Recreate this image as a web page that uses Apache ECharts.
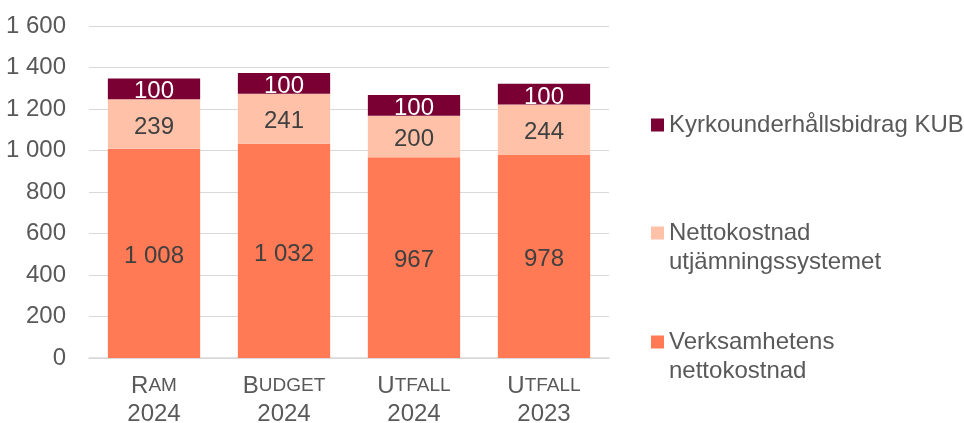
<!DOCTYPE html>
<html>
<head>
<meta charset="utf-8">
<script src="https://cdn.jsdelivr.net/npm/echarts@6/dist/echarts.min.js"></script>
<style>
    html, body { margin: 0; padding: 0; background: #fff; }
    #main { width: 964px; height: 423px; }
</style>
</head>
<body>
<div id="main"></div>
<script>
var categories = [['R', 'AM', '2024'], ['B', 'UDGET', '2024'], ['U', 'TFALL', '2024'], ['U', 'TFALL', '2023']];
var verksamhet = [1008, 1032, 967, 978];
var utjamning = [239, 241, 200, 244];
var kub = [100, 100, 100, 100];
var yTicks = { min: 0, max: 1600, step: 200 };

var names = ['Kyrkounderhållsbidrag KUB', 'Nettokostnad\nutjämningssystemet', 'Verksamhetens\nnettokostnad'];
var colors = ['#7A0034', '#FFC2A8', '#FF7A55'];
var font = 'Liberation Sans, Arial, sans-serif';

function fmt(v) {
    return String(v).replace(/\B(?=(\d{3})+(?!\d))/g, ' ');
}

// one legend per item so the gaps match; multi-line names get an empty
// first line so the marker lines up with the first text line
function legendAt(name, iconY) {
    var lines = name.split('\n').length;
    var blockH = lines > 1 ? (lines + 1) * 29 : 29;
    return {
        show: true,
        left: 646,
        top: iconY - blockH / 2 - 5,
        orient: 'vertical',
        data: [name],
        icon: 'rect',
        itemWidth: 13,
        itemHeight: 13,
        itemGap: 0,
        selectedMode: false,
        formatter: function (n) { return lines > 1 ? '\n' + n : n; },
        textStyle: {
            color: '#595959',
            fontSize: 24,
            fontFamily: font,
            lineHeight: 29
        }
    };
}

var labelBase = {
    show: true,
    position: 'inside',
    offset: [0, 3],
    fontSize: 24,
    fontFamily: font,
    color: '#404040',
    formatter: function (p) { return fmt(p.value); }
};

var option = {
    animation: false,
    grid: { left: 89, right: 355, top: 26, bottom: 65, containLabel: false, outerBoundsMode: 'none' },
    legend: [
        legendAt(names[0], 125),
        legendAt(names[1], 233),
        legendAt(names[2], 342)
    ],
    xAxis: {
        type: 'category',
        data: categories.map(function (c) { return c.join('|'); }),
        axisTick: { show: false },
        axisLine: { lineStyle: { color: '#D9D9D9', width: 1.5 } },
        axisLabel: {
            interval: 0,
            margin: 14,
            lineHeight: 28,
            formatter: function (v) {
                var p = v.split('|');
                return '{big|' + p[0] + '}{small|' + p[1] + '}\n{big|' + p[2] + '}';
            },
            rich: {
                big: { fontSize: 24, lineHeight: 28, color: '#595959', fontFamily: font },
                small: { fontSize: 19, lineHeight: 28, color: '#595959', fontFamily: font }
            }
        }
    },
    yAxis: {
        type: 'value',
        min: yTicks.min,
        max: yTicks.max,
        interval: yTicks.step,
        axisLine: { show: false },
        axisTick: { show: false },
        splitLine: { lineStyle: { color: '#D9D9D9', width: 1 } },
        axisLabel: {
            margin: 23,
            fontSize: 24,
            color: '#595959',
            fontFamily: font,
            formatter: function (v) { return fmt(v); }
        }
    },
    series: [
        {
            name: names[2], type: 'bar', stack: 'total', barWidth: '71%',
            data: verksamhet, itemStyle: { color: colors[2] }, label: labelBase
        },
        {
            name: names[1], type: 'bar', stack: 'total', barWidth: '71%',
            data: utjamning, itemStyle: { color: colors[1] }, label: labelBase
        },
        {
            name: names[0], type: 'bar', stack: 'total', barWidth: '71%',
            data: kub, itemStyle: { color: colors[0] },
            label: Object.assign({}, labelBase, { color: '#ffffff' })
        }
    ]
};

var myChart = echarts.init(document.getElementById('main'));
myChart.setOption(option);
</script>
</body>
</html>
